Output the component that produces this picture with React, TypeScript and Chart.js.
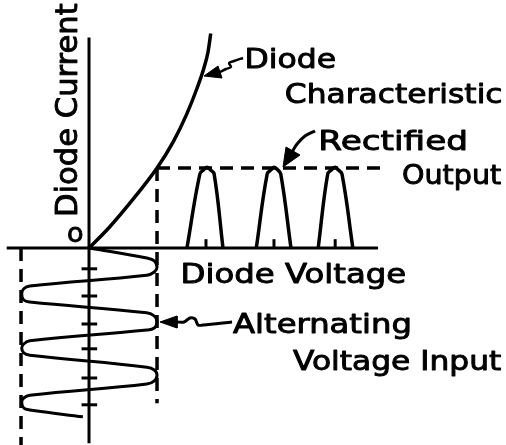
import React, { useEffect, useRef } from 'react';
import { Chart, registerables } from 'chart.js';

Chart.register(...registerables);

// Scale ranges (x: diode voltage, y: diode current; time of the input runs downwards as negative y)
const X_RANGE = [-1.309, 6.132];
const Y_RANGE = [-2.4625, 3.1];

// Axes extents
const V_AXIS = [-1.21, 4.25];
const I_AXIS = [-2.44, 2.63];

// Diode characteristic
const CURVE_V = [0, 0.3, 0.6, 1.0, 1.24, 1.44, 1.59, 1.69, 1.75, 1.79];
const CURVE_I = [0, 0.26, 0.56, 1.0, 1.33, 1.68, 2.0, 2.25, 2.45, 2.68];

// Alternating voltage input (voltage vs. time)
const INPUT_V = [0, 0.85, 0.96, 1.0, 0.96, 0.85, -0.87, -0.96, -0.99, -0.96, -0.87, 0.85, 0.96, 1.0, 0.96, 0.85, -0.87, -0.96, -0.99, -0.96, -0.87, 0.85, 0.96, 1.0, 0.96, 0.85, -0.87, -0.96, -0.99, -0.96, -0.87, -0.09];
const INPUT_T = [0, 0.125, 0.16, 0.24, 0.3, 0.34, 0.475, 0.51, 0.575, 0.65, 0.675, 0.81, 0.85, 0.925, 1.0, 1.025, 1.16, 1.2, 1.25, 1.31, 1.34, 1.49, 1.525, 1.59, 1.66, 1.7, 1.84, 1.875, 1.925, 2.0, 2.025, 2.11];
const TIME_TICKS = [0.26, 0.6, 0.95, 1.26, 1.625, 1.96];

// Rectified output pulses
const PULSE_1_X = [1.44, 1.63, 1.69, 1.735, 1.78, 1.84, 1.97];
const PULSE_2_X = [2.46, 2.62, 2.68, 2.72, 2.77, 2.82, 2.97];
const PULSE_3_X = [3.37, 3.51, 3.57, 3.62, 3.66, 3.72, 3.88];
const PULSE_Y = [0, 0.925, 0.98, 1.01, 0.98, 0.925, 0];
const OUTPUT_TICKS = [1.72, 2.72, 3.62];

// Peak guide lines
const PEAK_V = 1.0;
const PEAK_I = 1.0;
const GUIDE_H_END = 4.28;
const GUIDE_R_END = -1.94;
const GUIDE_L_V = -1.0;
const GUIDE_L_END = -2.47;

// Annotation arrows
const ARROW1_X = [2.265, 2.132, 2.059, 2.088, 2.015, 1.926];
const ARROW1_Y = [2.375, 2.3375, 2.3125, 2.2625, 2.2375, 2.2];
const HEAD1_X = [1.691, 1.897, 1.956, 1.691];
const HEAD1_Y = [2.15, 2.275, 2.125, 2.15];
const ARROW2_X = [3.324, 3.176, 3.059, 2.985];
const ARROW2_Y = [1.4625, 1.4, 1.3, 1.2];
const HEAD2_X = [2.853, 2.897, 3.103, 2.853];
const HEAD2_Y = [1.0125, 1.2625, 1.1625, 1.0125];
const ARROW3_X = [2.103, 1.676, 1.603, 1.559, 1.485, 1.397, 1.294];
const ARROW3_Y = [-0.925, -0.9625, -0.9625, -0.8875, -0.875, -0.925, -0.925];
const HEAD3_X = [1.044, 1.294, 1.294, 1.044];
const HEAD3_Y = [-0.925, -0.85, -1.0, -0.925];

// Text labels (layout)
const LABELS = [
  { text: 'Diode Current', x: 77, y: 215, size: 30, w: 212, rot: -Math.PI / 2 },
  { text: 'o', x: 68, y: 242, size: 27, w: 0, rot: 0 },
  { text: 'Diode', x: 247, y: 68, size: 26, w: 88, rot: 0 },
  { text: 'Characteristic', x: 286, y: 103, size: 26, w: 215, rot: 0 },
  { text: 'Rectified', x: 321, y: 150, size: 26, w: 145, rot: 0 },
  { text: 'Output', x: 403, y: 184, size: 26, w: 98, rot: 0 },
  { text: 'Diode Voltage', x: 183, y: 283, size: 26, w: 222, rot: 0 },
  { text: 'Alternating', x: 233, y: 333, size: 26, w: 177, rot: 0 },
  { text: 'Voltage Input', x: 293, y: 370, size: 26, w: 208, rot: 0 },
];

const zip = (xs: number[], ys: number[]) => xs.map((x, i) => ({ x, y: ys[i] }));

const line = (data: any[], opts: any = {}) => ({
  data,
  showLine: true,
  borderColor: '#000',
  backgroundColor: '#000',
  borderWidth: 3,
  pointRadius: 0,
  pointHoverRadius: 0,
  fill: false,
  tension: 0,
  ...opts,
});

const textPlugin = {
  id: 'diagramLabels',
  afterDraw(chart: any) {
    const ctx = chart.ctx as CanvasRenderingContext2D;
    ctx.save();
    ctx.fillStyle = '#000';
    ctx.strokeStyle = '#000';
    ctx.lineJoin = 'round';
    ctx.textBaseline = 'alphabetic';
    ctx.textAlign = 'left';
    for (const l of LABELS) {
      ctx.font = `${l.size}px "DejaVu Sans"`;
      const m = ctx.measureText(l.text);
      const ink = m.actualBoundingBoxLeft + m.actualBoundingBoxRight;
      const sx = l.w ? l.w / ink : 1;
      ctx.save();
      ctx.translate(l.x, l.y);
      if (l.rot) ctx.rotate(l.rot);
      ctx.scale(sx, 1);
      ctx.lineWidth = 0.9;
      ctx.fillText(l.text, m.actualBoundingBoxLeft, 0);
      ctx.strokeText(l.text, m.actualBoundingBoxLeft, 0);
      ctx.restore();
    }
    ctx.restore();
  },
};

export default function App() {
  const ref = useRef<HTMLCanvasElement | null>(null);

  useEffect(() => {
    if (!ref.current) return;
    const dash = [13, 8];
    const datasets: any[] = [
      line([{ x: V_AXIS[0], y: 0 }, { x: V_AXIS[1], y: 0 }]),
      line([{ x: 0, y: I_AXIS[1] }, { x: 0, y: I_AXIS[0] }]),
      ...TIME_TICKS.map((t) => line([{ x: -0.11, y: -t }, { x: 0.12, y: -t }])),
      ...OUTPUT_TICKS.map((c) => line([{ x: c, y: 0 }, { x: c, y: 0.11 }])),
      line([{ x: PEAK_V, y: PEAK_I }, { x: GUIDE_H_END, y: PEAK_I }], { borderDash: dash, borderWidth: 3.5 }),
      line([{ x: PEAK_V, y: PEAK_I }, { x: PEAK_V, y: GUIDE_R_END }], { borderDash: dash, borderWidth: 3.5 }),
      line([{ x: GUIDE_L_V, y: 0 }, { x: GUIDE_L_V, y: GUIDE_L_END }], { borderDash: dash, borderWidth: 3.5 }),
      line(zip(CURVE_V, CURVE_I), { cubicInterpolationMode: 'monotone', borderWidth: 3.5 }),
      line(zip(PULSE_1_X, PULSE_Y), { tension: 0.4, borderWidth: 3.5 }),
      line(zip(PULSE_2_X, PULSE_Y), { tension: 0.4, borderWidth: 3.5 }),
      line(zip(PULSE_3_X, PULSE_Y), { tension: 0.4, borderWidth: 3.5 }),
      line(zip(INPUT_V, INPUT_T.map((t) => -t)), { tension: 0.4, borderWidth: 3 }),
      line(zip(ARROW1_X, ARROW1_Y), { tension: 0.3, borderWidth: 2.5 }),
      line(zip(HEAD1_X, HEAD1_Y), { fill: 'shape', borderWidth: 1 }),
      line(zip(ARROW2_X, ARROW2_Y), { tension: 0.3, borderWidth: 3 }),
      line(zip(HEAD2_X, HEAD2_Y), { fill: 'shape', borderWidth: 1 }),
      line(zip(ARROW3_X, ARROW3_Y), { tension: 0.3, borderWidth: 3 }),
      line(zip(HEAD3_X, HEAD3_Y), { fill: 'shape', borderWidth: 1 }),
    ];

    const chart = new Chart(ref.current, {
      type: 'scatter',
      data: { datasets },
      options: {
        animation: false,
        responsive: false,
        maintainAspectRatio: false,
        devicePixelRatio: 1,
        layout: { padding: 0 },
        events: [],
        plugins: {
          legend: { display: false },
          tooltip: { enabled: false },
          title: { display: false },
        },
        scales: {
          x: { type: 'linear', min: X_RANGE[0], max: X_RANGE[1], display: false },
          y: { type: 'linear', min: Y_RANGE[0], max: Y_RANGE[1], display: false },
        },
      },
      plugins: [textPlugin],
    });
    return () => chart.destroy();
  }, []);

  return (
    <div style={{ position: 'fixed', left: 0, top: 0, width: 506, height: 445, background: '#fff' }}>
      <canvas ref={ref} width={506} height={445} style={{ display: 'block', width: 506, height: 445 }} />
    </div>
  );
}
